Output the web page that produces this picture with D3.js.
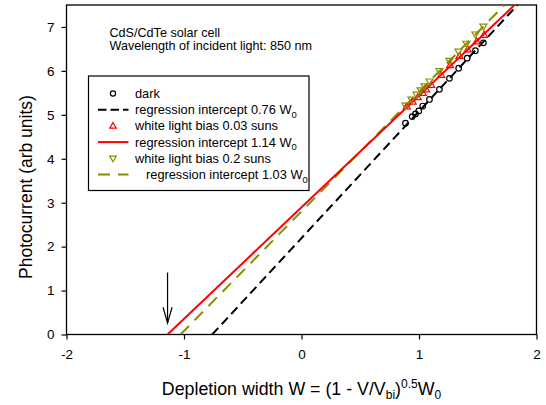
<!DOCTYPE html>
<html>
<head>
<meta charset="utf-8">
<script src="https://cdn.jsdelivr.net/npm/d3@7"></script>
<style>
  body { margin: 0; background: #fff; }
  text { font-family: "Liberation Sans", Arial, sans-serif; }
</style>
</head>
<body>
<div id="app"></div>
<script>
const MARGIN = { top: 5, right: 9.5, bottom: 70.5, left: 66.5 }
const OUTER = { width: 546, height: 405 }
const INNER = {
  width: OUTER.width - MARGIN.left - MARGIN.right,
  height: OUTER.height - MARGIN.top - MARGIN.bottom,
};

// measured points (depletion width, photocurrent)
const darkW = [0.885, 0.942, 0.970, 0.998, 1.032, 1.089, 1.174, 1.259, 1.338, 1.410, 1.480, 1.548];
const darkI = [4.81, 4.96, 5.02, 5.09, 5.20, 5.35, 5.58, 5.83, 6.06, 6.29, 6.46, 6.64];
const bias003W = [0.896, 0.947, 0.990, 1.032, 1.061, 1.104, 1.189, 1.265, 1.344, 1.415, 1.491, 1.554];
const bias003I = [5.19, 5.30, 5.40, 5.50, 5.58, 5.68, 5.91, 6.13, 6.34, 6.49, 6.67, 6.82];
const bias02W = [0.885, 0.936, 0.979, 1.013, 1.047, 1.089, 1.174, 1.259, 1.336, 1.404, 1.480, 1.548];
const bias02I = [5.21, 5.35, 5.46, 5.56, 5.65, 5.76, 6.00, 6.23, 6.44, 6.62, 6.83, 7.01];

// regression fits: dark, 0.03 suns, 0.2 suns
const fitIntercepts = [-0.76, -1.14, -1.03];
const fitSlopes = [2.887, 2.54, 2.72];

const xTicks = [-2, -1, 0, 1, 2];
const yTicks = [0, 1, 2, 3, 4, 5, 6, 7];
const legendLabels = [
  "dark",
  "regression intercept 0.76 W",
  "white light bias 0.03 suns",
  "regression intercept 1.14 W",
  "white light bias 0.2 suns",
  "regression intercept 1.03 W",
];
const noteLines = ["CdS/CdTe solar cell", "Wavelength of incident light: 850 nm"];
const arrowX = -1.14;

const OLIVE = "#8c8c00";
const RED = "#ff0000";

const xScale = d3.scaleLinear()
  .domain([-2, 2])
  .range([0, INNER.width])

const yScale = d3.scaleLinear()
  .domain([0, 7.5])
  .range([INNER.height, 0])

const line = d3.line()
  .x(d => xScale(d[0]))
  .y(d => yScale(d[1]));

const zip = (xs, ys) => xs.map((x, i) => [x, ys[i]]);

const fitLine = i => {
  const top = yScale.domain()[1];
  return [[fitIntercepts[i], 0], [fitIntercepts[i] + top / fitSlopes[i], top]];
}

const triangle = (up, size) => {
  const h = size * 0.866;
  return up
    ? `M0,${-h * 0.6}L${size / 2},${h * 0.4}L${-size / 2},${h * 0.4}Z`
    : `M0,${h * 0.6}L${size / 2},${-h * 0.4}L${-size / 2},${-h * 0.4}Z`;
}

const addChart = () => {
  const svg = d3.select('#app')
    .append('svg')
    .attr('width', OUTER.width)
    .attr('height', OUTER.height);

  svg.append('defs').append('clipPath')
    .attr('id', 'clip')
    .append('rect')
    .attr('width', INNER.width)
    .attr('height', INNER.height);

  const g = svg.append('g')
    .attr('transform', `translate(${MARGIN.left}, ${MARGIN.top})`);

  // x axis: major + minor ticks
  const xAxis = g.append('g')
    .attr('transform', `translate(0, ${INNER.height})`)
  xAxis.call(d3.axisBottom(xScale).tickValues(d3.range(-20, 21).map(d => d / 10)).tickSize(3).tickFormat(''))
  xAxis.call(d3.axisBottom(xScale).tickValues(xTicks).tickSize(5).tickPadding(10).tickFormat(d => String(d)))
  xAxis.selectAll('.domain').remove();

  const yAxis = g.append('g')
    .call(d3.axisLeft(yScale).tickValues(yTicks).tickSize(5).tickPadding(7).tickFormat(d => String(d)))
  yAxis.select('.domain').remove();

  g.selectAll('.tick text')
    .attr('font-size', 13.5)
    .attr('font-family', '"Liberation Sans", Arial, sans-serif')
    .attr('fill', '#000');
  g.selectAll('.tick line').attr('stroke', '#000').attr('stroke-width', 1.2);

  g.append('rect')
    .attr('width', INNER.width)
    .attr('height', INNER.height)
    .attr('fill', 'none')
    .attr('stroke', '#000')
    .attr('stroke-width', 1.3);

  const plot = g.append('g').attr('clip-path', 'url(#clip)');

  // regression lines
  plot.append('path')
    .attr('d', line(fitLine(0)))
    .attr('fill', 'none')
    .attr('stroke', '#000')
    .attr('stroke-width', 2)
    .attr('stroke-dasharray', '9,5');
  plot.append('path')
    .attr('d', line(fitLine(2)))
    .attr('fill', 'none')
    .attr('stroke', OLIVE)
    .attr('stroke-width', 2)
    .attr('stroke-dasharray', '12,8');
  plot.append('path')
    .attr('d', line(fitLine(1)))
    .attr('fill', 'none')
    .attr('stroke', RED)
    .attr('stroke-width', 2);

  // data markers
  plot.selectAll('.dark')
    .data(zip(darkW, darkI))
    .join('circle')
    .attr('cx', d => xScale(d[0]))
    .attr('cy', d => yScale(d[1]))
    .attr('r', 2.8)
    .attr('fill', 'none')
    .attr('stroke', '#000')
    .attr('stroke-width', 1.2);
  plot.selectAll('.b003')
    .data(zip(bias003W, bias003I))
    .join('path')
    .attr('transform', d => `translate(${xScale(d[0])},${yScale(d[1])})`)
    .attr('d', triangle(true, 7))
    .attr('fill', 'none')
    .attr('stroke', RED)
    .attr('stroke-width', 1.2);
  plot.selectAll('.b02')
    .data(zip(bias02W, bias02I))
    .join('path')
    .attr('transform', d => `translate(${xScale(d[0])},${yScale(d[1])})`)
    .attr('d', triangle(false, 7))
    .attr('fill', 'none')
    .attr('stroke', OLIVE)
    .attr('stroke-width', 1.2);

  // arrow marking the intercept
  const ax = xScale(arrowX);
  g.append('line')
    .attr('x1', ax).attr('x2', ax)
    .attr('y1', yScale(1.41)).attr('y2', yScale(0.26))
    .attr('stroke', '#000')
    .attr('stroke-width', 1.2);
  g.append('path')
    .attr('d', `M${ax - 4.5},${yScale(0.62)}L${ax},${yScale(0.26)}L${ax + 4.5},${yScale(0.62)}`)
    .attr('fill', 'none')
    .attr('stroke', '#000')
    .attr('stroke-width', 1.2);

  // note text
  g.selectAll('.note')
    .data(noteLines)
    .join('text')
    .attr('x', 43)
    .attr('y', (d, i) => 31.5 + i * 13.2)
    .attr('font-size', 12.6)
    .text(d => d);

  // legend
  const lg = g.append('g').attr('transform', 'translate(22, 71)');
  lg.append('rect')
    .attr('width', 220.5)
    .attr('height', 114.5)
    .attr('fill', '#fff')
    .attr('stroke', '#000')
    .attr('stroke-width', 1.2);
  const rowY = i => 17.5 + i * 16.2;
  const symX = 24.5;
  lg.append('circle')
    .attr('cx', symX).attr('cy', rowY(0)).attr('r', 2.6)
    .attr('fill', 'none').attr('stroke', '#000').attr('stroke-width', 1.2);
  lg.append('path')
    .attr('transform', `translate(${symX},${rowY(2)})`)
    .attr('d', triangle(true, 6.5))
    .attr('fill', 'none').attr('stroke', RED).attr('stroke-width', 1.2);
  lg.append('path')
    .attr('transform', `translate(${symX},${rowY(4)})`)
    .attr('d', triangle(false, 6.5))
    .attr('fill', 'none').attr('stroke', OLIVE).attr('stroke-width', 1.2);
  const seg = [[9.5, 0], [40, 0]];
  const segPath = i => `M${seg[0][0]},${rowY(i)}L${seg[1][0]},${rowY(i)}`;
  lg.append('path').attr('d', segPath(1))
    .attr('stroke', '#000').attr('stroke-width', 2).attr('stroke-dasharray', '8.5,4');
  lg.append('path').attr('d', segPath(3))
    .attr('stroke', RED).attr('stroke-width', 2);
  lg.append('path').attr('d', segPath(5))
    .attr('stroke', OLIVE).attr('stroke-width', 2).attr('stroke-dasharray', '12,8');

  const labels = lg.selectAll('.lab')
    .data(legendLabels)
    .join('text')
    .attr('x', (d, i) => i === 5 ? 57.5 : 46.5)
    .attr('y', (d, i) => rowY(i) + 4.5)
    .attr('font-size', 12.8)
    .text(d => d);
  labels.filter((d, i) => i % 2 === 1)
    .append('tspan')
    .attr('dy', 3.5)
    .attr('font-size', 9.5)
    .text('0');

  // axis titles
  const xt = svg.append('text')
    .attr('x', MARGIN.left + xScale(0))
    .attr('y', 395)
    .attr('text-anchor', 'middle')
    .attr('font-size', 17.8);
  xt.append('tspan').text('Depletion width W = (1 - V/V');
  xt.append('tspan').attr('dy', 4).attr('font-size', 12).text('bi');
  xt.append('tspan').attr('dy', -4).text(')');
  xt.append('tspan').attr('dy', -7).attr('font-size', 12).text('0.5');
  xt.append('tspan').attr('dy', 7).text('W');
  xt.append('tspan').attr('dy', 4).attr('font-size', 12).text('0');

  svg.append('text')
    .attr('transform', `translate(31.5, 187) rotate(-90)`)
    .attr('text-anchor', 'middle')
    .attr('font-size', 17.5)
    .text('Photocurrent (arb units)');

  return g;
}

const init = () => {
  addChart();
}

init();
</script>
</body>
</html>
